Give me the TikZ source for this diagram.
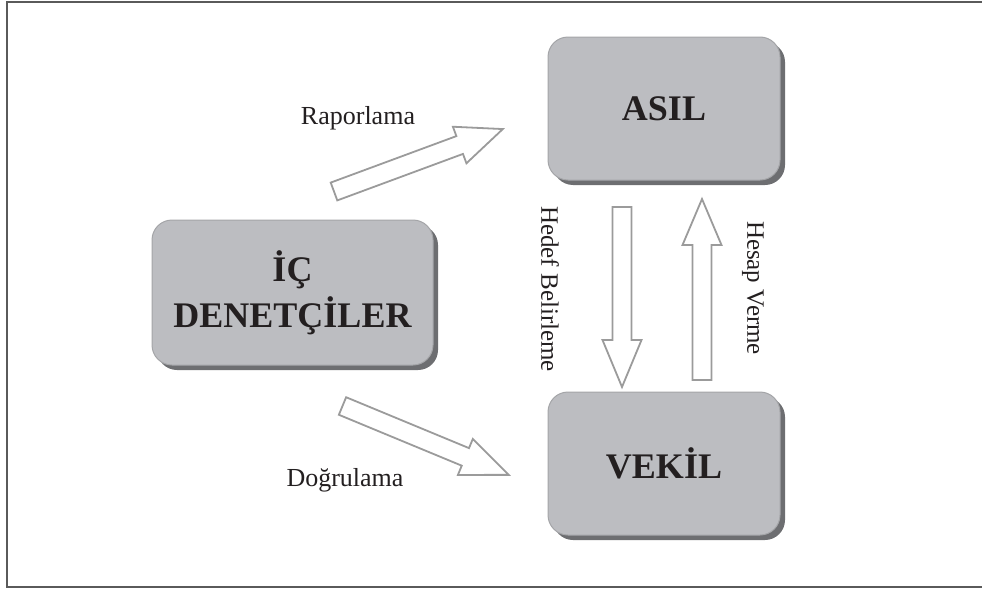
\documentclass[tikz,border=0pt]{standalone}
\usepackage{fontspec}
\setmainfont{Liberation Serif}
\usetikzlibrary{shadows}
\definecolor{boxfill}{HTML}{BCBDC1}
\definecolor{boxline}{HTML}{A4A5A8}
\definecolor{boxshadow}{HTML}{6D6E71}
\definecolor{arrowline}{HTML}{9B9B9B}
\definecolor{frameline}{HTML}{5A5A5A}
\definecolor{ink}{HTML}{231F20}
\tikzset{
  actor/.style={draw=boxline, line width=1pt, fill=boxfill, rounded corners=20pt,
    drop shadow={shadow xshift=5pt, shadow yshift=-5pt, fill=boxshadow, opacity=1},
    font=\fontsize{36}{46}\selectfont\bfseries, text=ink, align=center, inner sep=0pt},
  blockarrow/.style={draw=arrowline, line width=1.8pt, fill=white, line join=miter},
  flowlabel/.style={font=\fontsize{26}{30}\selectfont, text=ink, inner sep=0pt},
  sidelabel/.style={font=\fontsize{25}{30}\selectfont, text=ink, inner sep=0pt, rotate=-90}
}
\newcommand{\blockarrowshape}[3]{% length, head length, name
  \draw[blockarrow] (0,-9.5) -- (#1-#2,-9.5) -- (#1-#2,-19.5) -- (#1,0) coordinate (#3tip)
    -- (#1-#2,19.5) -- (#1-#2,9.5) -- (0,9.5) -- cycle;
  \coordinate (#3tail) at (0,0);
}
\begin{document}
\begin{tikzpicture}[x=1pt,y=-1pt]
\useasboundingbox (0,0) rectangle (982,589);
% frame
\draw[frameline, line width=1.6pt] (990,2) -- (7,2) -- (7,587) -- (990,587);
% boxes
\node[actor, minimum width=232pt, minimum height=143pt] (asil) at (664,108.5) {ASIL};
\node[actor, minimum width=281pt, minimum height=145pt] (ic) at (292.5,292.5) {İÇ\\DENETÇİLER};
\node[actor, minimum width=232pt, minimum height=143pt] (vekil) at (664,463.5) {VEKİL};
% block arrows
\begin{scope}[shift={(334,191.5)}, rotate=20.3]
  \blockarrowshape{180}{46}{rap}
\end{scope}
\begin{scope}[shift={(342.5,406)}, rotate=-22.5]
  \blockarrowshape{180}{47}{dog}
\end{scope}
\begin{scope}[shift={(622,207)}, rotate=-90]
  \blockarrowshape{180}{47}{hed}
\end{scope}
\begin{scope}[shift={(702,380)}, rotate=90]
  \blockarrowshape{181}{46}{hes}
\end{scope}
% labels
\node[flowlabel] (lrap) at (358,118) {Raporlama};
\node[flowlabel] (ldog) at (345,480) {Doğrulama};
\node[sidelabel] (lhed) at (550,289) {Hedef Belirleme};
\node[sidelabel] (lhes) at (753,288) {Hesap Verme};
\end{tikzpicture}
\end{document}
